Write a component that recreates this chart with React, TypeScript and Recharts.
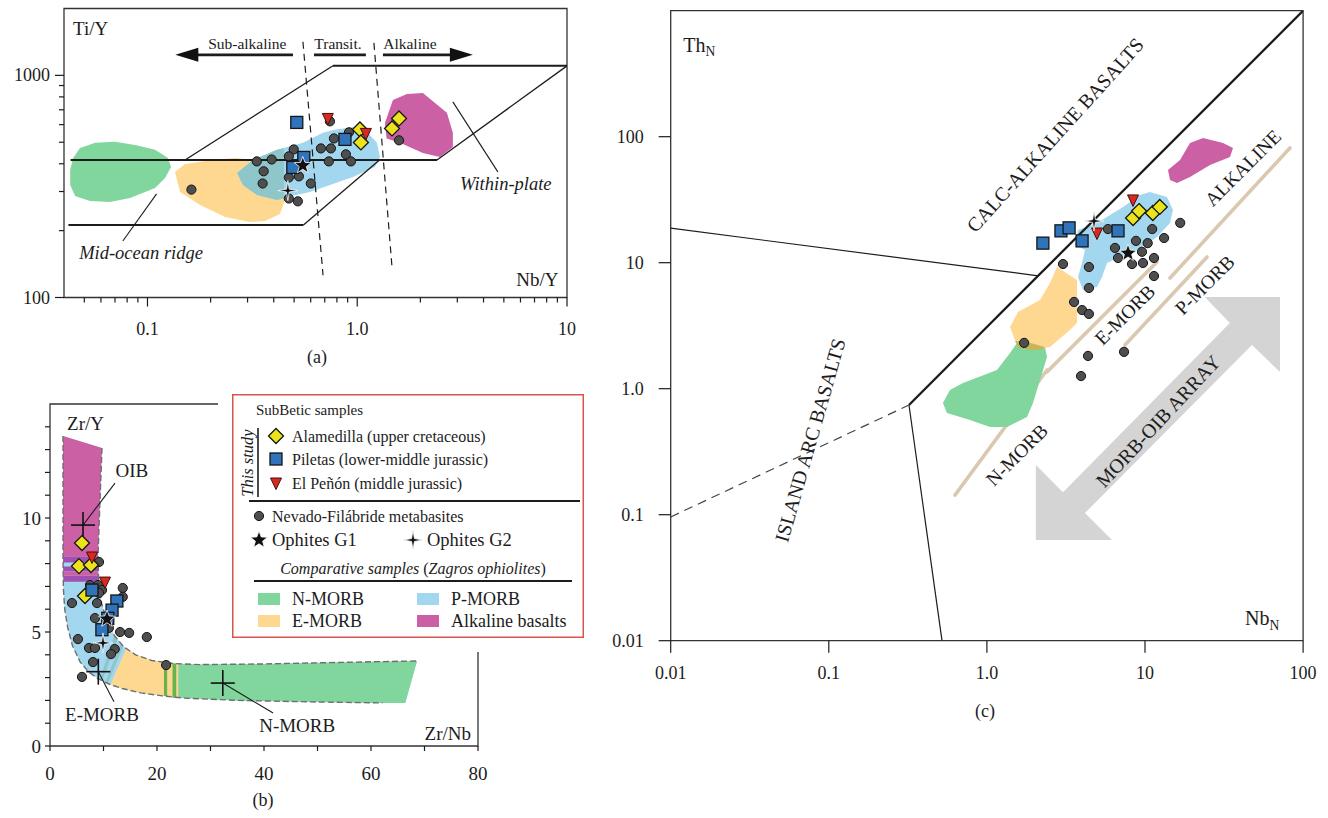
import React from 'react';
import { ScatterChart, Scatter, XAxis, YAxis, ReferenceArea } from 'recharts';

type P = [number, number];
type Note = { x: number; y: number; text: string; sub?: string };
const pts = (a: P[]) => a.map(([x, y]) => ({ x, y }));

const SERIF = '"Liberation Serif", "Times New Roman", Times, serif';
const INK = '#1c1c1c';
const COL = {
  nmorb: '#80d69c', emorb: '#fed891', pmorb: '#a3d6ef', alk: '#cc60a4', mix: '#8fc6c9',
  olive: '#c7b55b', purple: '#a050b2', sand: '#dac9b0', arrow: '#d4d4d4', dkgreen: '#69b34f',
  ala: '#ebe41c', pil: '#2f73ba', pen: '#d52a20', nf: '#4e4e4e', frame: '#333333', legend: '#d9534f',
};

/* ---------------- (a) Nb/Y vs Ti/Y ---------------- */
const A_XTICKS = [0.05, 0.06, 0.07, 0.08, 0.09, 0.1, 0.2, 0.3, 0.4, 0.5, 0.6, 0.7, 0.8, 0.9, 1, 2, 3, 4, 5, 6, 7, 8, 9, 10];
const A_XLABELS: Record<string, string> = { '0.1': '0.1', '1': '1.0', '10': '10' };
const A_YTICKS = [100, 200, 300, 400, 500, 600, 700, 800, 900, 1000];
const A_YLABELS: Record<string, string> = { '100': '100', '1000': '1000' };

const A_NMORB: P[] = [[0.0428, 375], [0.0442, 425], [0.0477, 471], [0.0563, 497], [0.0701, 502], [0.0873, 486], [0.1087, 462], [0.1253, 425], [0.1295, 387], [0.1213, 345], [0.1087, 311], [0.0826, 280.7], [0.0663, 269], [0.0532, 272], [0.0452, 286.6], [0.0428, 321]];
const A_EMORB: P[] = [[0.1353, 367.6], [0.151, 399.4], [0.2032, 416], [0.2615, 425], [0.3256, 416], [0.4426, 338.3], [0.4525, 274.9], [0.4283, 237.8], [0.3634, 221.1], [0.3082, 218.8], [0.2343, 230.5], [0.1781, 261], [0.143, 298.7]];
const A_PMORB: P[] = [[0.2673, 363.8], [0.3185, 416], [0.4145, 462], [0.5512, 497], [0.6865, 551], [0.7659, 568], [0.9539, 586], [1.112, 557], [1.241, 497], [1.283, 429.5], [1.214, 387], [0.9539, 348.9], [0.7411, 321], [0.5953, 298.7], [0.4625, 283.6], [0.4145, 274.9], [0.3329, 289.6], [0.2854, 321]];
const A_MIX: P[] = [[0.2673, 363.8], [0.3185, 416], [0.4145, 462], [0.447, 470], [0.447, 280], [0.4145, 274.9], [0.3329, 289.6], [0.2854, 321]];
const A_ALK: P[] = [[1.38, 520], [1.355, 611], [1.48, 775.6], [1.725, 825], [2.056, 834], [2.676, 678], [2.857, 551], [2.857, 476], [2.478, 429.5], [2.056, 447.6], [1.598, 497]];

const A_BOUNDS: P[][] = [
  [[0.043, 416], [2.4, 416]],
  [[2.4, 416], [10, 1104]],
  [[0.151, 416], [0.766, 1104]],
  [[0.766, 1104], [10, 1104]],
  [[0.042, 212], [0.554, 212]],
  [[0.554, 212], [1.277, 416]],
];
const A_DASHED: P[][] = [
  [[0.551, 1416], [0.687, 126]],
  [[1.201, 1400], [1.463, 139]],
];
const A_SHAFTS: P[][] = [
  [[0.4939, 1237], [0.17, 1237]],
  [[0.622, 1237], [1.1, 1237]],
  [[1.326, 1237], [2.8, 1237]],
];
const A_HEAD_L: P[] = [[0.1357, 1237]];
const A_HEAD_R: P[] = [[3.558, 1237]];
const A_LEADERS: P[][] = [
  [[0.1105, 292.7], [0.0763, 179.7]],
  [[2.857, 760], [4.68, 367.6]],
];

const A_NF: P[] = [[0.741, 621], [0.774, 520], [0.913, 554], [0.671, 469], [0.749, 469], [0.883, 441], [0.933, 410], [0.732, 410], [0.498, 464], [0.332, 410], [0.391, 418], [0.472, 432], [0.358, 370], [0.354, 326], [0.472, 347], [0.527, 351], [0.601, 326], [0.472, 279], [0.521, 271], [0.162, 306], [1.582, 510]];
const A_ALA: P[] = [[1.03, 571], [1.041, 499], [1.582, 640], [1.465, 577]];
const A_PIL: P[] = [[0.515, 614], [0.874, 515], [0.556, 427], [0.493, 385]];
const A_PEN: P[] = [[0.724, 640], [1.1, 548]];
const A_G1: P[] = [[0.55, 393]];
const A_G2: P[] = [[0.467, 303]];

const A_SERIES_NOTES: Note[] = [
  { x: 0.2993, y: 1386, text: 'Sub-alkaline' },
  { x: 0.8094, y: 1386, text: 'Transit.' },
  { x: 1.783, y: 1386, text: 'Alkaline' },
];
const A_FIELD_NOTES: Note[] = [
  { x: 0.0932, y: 158.7, text: 'Mid-ocean ridge' },
  { x: 5.11, y: 324.6, text: 'Within-plate' },
];
const A_YTITLE: Note[] = [{ x: 0.0442, y: 1620, text: 'Ti/Y' }];
const A_XTITLE: Note[] = [{ x: 9.1, y: 120, text: 'Nb/Y' }];

/* ---------------- (b) Zr/Nb vs Zr/Y ---------------- */
const B_XTICKS = [0, 10, 20, 30, 40, 50, 60, 70, 80];
const B_XLABELS: Record<string, string> = { '0': '0', '20': '20', '40': '40', '60': '60', '80': '80' };
const B_YTICKS = [0, 1, 2, 3, 4, 5, 6, 7, 8, 9, 10, 11, 12, 13, 14];
const B_YLABELS: Record<string, string> = { '0': '0', '5': '5', '10': '10' };

const B_OUTER: P[] = [[2.43, 13.6], [2.43, 11], [2.43, 8.3], [2.5, 6.9], [2.75, 6.0], [3.3, 5.2], [4.2, 4.4], [5.6, 3.7], [7.2, 3.25], [9.0, 2.95], [11.0, 2.72], [13.5, 2.52], [17, 2.33], [21, 2.2], [25, 2.1], [35, 2.0], [50, 1.93], [62.2, 1.89]];
const B_INNER: P[] = [[9.72, 13.07], [9.3, 10.5], [8.97, 8.3], [9.1, 7.2], [9.6, 6.3], [10.6, 5.5], [12.0, 4.85], [13.8, 4.35], [16, 4.0], [19, 3.75], [23, 3.62], [28, 3.57], [40, 3.6], [55, 3.67], [68.6, 3.73]];
const B_BAND: P[] = [...B_OUTER, [66.4, 1.89], ...[...B_INNER].reverse()];
const B_ALK: P[] = [[2.43, 13.6], [9.72, 13.07], [9.3, 10.5], [8.97, 8.3], [2.43, 8.3]];
const B_PURPLE: P[][] = [
  [[2.43, 8.3], [8.97, 8.3], [8.98, 8.05], [2.43, 8.05]],
  [[2.45, 7.87], [9.0, 7.87], [9.02, 7.65], [2.46, 7.65]],
  [[2.47, 7.47], [9.05, 7.47], [9.08, 7.2], [2.48, 7.2]],
];
const B_PINK_STRIPE: P[] = [[2.46, 7.65], [9.02, 7.65], [9.05, 7.47], [2.47, 7.47]];
const B_MIX_STRIPES: P[][] = [
  [[12.0, 4.85], [12.6, 4.68], [9.8, 2.87], [9.3, 2.92]],
  [[13.2, 4.5], [13.7, 4.37], [10.8, 2.74], [10.3, 2.79]],
];
const B_EMORB: P[] = [[14.2, 4.27], [16, 4.0], [19, 3.75], [23, 3.62], [24, 3.61], [24, 2.1], [21, 2.2], [17, 2.33], [13.5, 2.52], [11.3, 2.7]];
const B_GREEN_STRIPES: P[][] = [
  [[21.3, 3.67], [21.9, 3.66], [21.9, 2.18], [21.3, 2.19]],
  [[22.9, 3.63], [23.6, 3.62], [23.6, 2.11], [22.9, 2.12]],
];
const B_NMORB: P[] = [[24, 3.61], [28, 3.57], [40, 3.6], [55, 3.67], [68.6, 3.73], [66.4, 1.89], [62.2, 1.89], [50, 1.93], [35, 2.0], [25, 2.1], [24, 2.1]];

const B_CROSSES: P[] = [[6.17, 9.69], [9.03, 3.26], [32.3, 2.76]];
const B_LEADERS: P[][] = [
  [[6.17, 9.69], [12.15, 11.53]],
  [[9.03, 3.26], [11.96, 1.94]],
  [[32.3, 2.76], [41.7, 1.45]],
];
const B_NOTES: Note[] = [
  { x: 15.3, y: 12.1, text: 'OIB' },
  { x: 9.72, y: 1.36, text: 'E-MORB' },
  { x: 46.2, y: 0.88, text: 'N-MORB' },
];
const B_YTITLE: Note[] = [{ x: 3.2, y: 14.15, text: 'Zr/Y' }];
const B_XTITLE: Note[] = [{ x: 78.7, y: 0.57, text: 'Zr/Nb' }];

const B_NF: P[] = [[9.16, 8.07], [7.48, 7.06], [8.97, 7.06], [9.72, 6.84], [9.16, 6.71], [13.6, 6.93], [13.6, 6.54], [4.11, 6.27], [8.79, 6.27], [8.41, 5.61], [11.0, 5.18], [13.1, 5.0], [14.8, 4.96], [18.1, 4.78], [5.23, 4.69], [7.29, 4.3], [8.41, 4.3], [12.1, 4.25], [11.4, 4.03], [8.04, 3.68], [5.98, 3.03], [21.7, 3.55]];
const B_ALA: P[] = [[5.98, 8.9], [5.42, 7.89], [7.66, 7.94], [6.54, 6.58]];
const B_PIL: P[] = [[7.85, 6.84], [12.5, 6.36], [11.6, 5.96], [10.8, 5.6], [9.7, 5.1]];
const B_PEN: P[] = [[7.85, 8.29], [10.28, 7.19]];
const B_G1: P[] = [[10.65, 5.57]];
const B_G2: P[] = [[9.9, 4.52]];

/* ---------------- (c) NbN vs ThN ---------------- */
const C_XTICKS = [0.01, 0.1, 1, 10, 100];
const C_XLABELS: Record<string, string> = { '0.01': '0.01', '0.1': '0.1', '1': '1.0', '10': '10', '100': '100' };
const C_YTICKS = [0.01, 0.1, 1, 10, 100];
const C_YLABELS: Record<string, string> = { '0.01': '0.01', '0.1': '0.1', '1': '1.0', '10': '10', '100': '100' };

const C_NMORB: P[] = [[0.527, 0.77], [0.584, 0.977], [0.706, 1.11], [1.158, 1.407], [1.4, 1.92], [1.55, 2.31], [1.793, 2.348], [2.331, 2.143], [2.4, 1.785], [2.167, 1.172], [1.957, 0.77], [1.793, 0.596], [1.34, 0.497], [1.046, 0.497], [0.782, 0.564], [0.559, 0.641]];
const C_EMORB: P[] = [[2.776, 9.24], [3.714, 7.29], [3.714, 3.32], [3.354, 2.92], [2.507, 2.143], [1.957, 2.03], [1.505, 2.43], [1.4, 3.09], [1.573, 4.06], [2.167, 5.06], [2.507, 6.9]];
const C_OVERLAP: P[] = [[1.5, 2.4], [1.79, 2.35], [2.33, 2.14], [2.2, 2.05], [1.95, 2.02], [1.6, 2.1]];
const C_PMORB: P[] = [[3.769, 18.17], [4.97, 20.66], [7.26, 27.68], [9.3, 34.45], [10.75, 36.4], [13.78, 33.22], [15.03, 26.2], [14.39, 20.66], [11.91, 16.0], [8.9, 12.61], [6.95, 11.1], [5.75, 9.95], [5.346, 7.7], [4.97, 6.41], [4.054, 6.07], [3.769, 7.7], [3.995, 9.95], [4.174, 12.61], [3.607, 13.82]];
const C_ALK: P[] = [[14.39, 45.3], [13.98, 54.4], [16.65, 65.3], [19.26, 89.1], [23.28, 97.6], [31.15, 89.1], [36.03, 81.4], [34.49, 69.0], [25.77, 59.6], [19.26, 47.9], [15.94, 42.9]];
const C_ARRAY_ARROW: P[] = [[71.4, 5.34], [71.4, 1.357], [47.5, 2.22], [4.17, 0.103], [6.18, 0.063], [2.04, 0.063], [2.04, 0.248], [3.03, 0.151], [34.4, 3.32], [23.9, 5.34]];

const C_MAIN: P[] = [[0.3215, 0.742], [100, 1000]];
const C_THIN: P[][] = [
  [[0.01, 18.8], [2.11, 7.87]],
  [[0.3215, 0.742], [0.52, 0.01]],
];
const C_DASHED: P[] = [[0.01, 0.096], [0.3215, 0.742]];
const C_TRENDS: P[][] = [
  [[0.628, 0.143], [2.4, 1.407]],
  [[2.4, 1.36], [11.91, 10.13]],
  [[7.47, 2.22], [24.7, 11.1]],
  [[14.39, 7.56], [82.6, 81.4]],
];

const C_NF: P[] = [[5.83, 18.5], [11.1, 18.5], [16.7, 20.7], [8.77, 14.9], [10.4, 14.3], [13.2, 15.7], [6.46, 13.1], [6.75, 10.9], [9.57, 12.2], [9.71, 9.95], [8.28, 9.76], [11.4, 10.9], [11.4, 7.84], [3.03, 9.76], [4.42, 9.24], [4.42, 6.3], [3.56, 4.88], [4.0, 4.21], [4.42, 3.92], [1.72, 2.31], [4.36, 1.82], [7.37, 1.96], [3.94, 1.26]];
const C_ALA: P[] = [[8.4, 22.6], [9.17, 25.7], [11.2, 24.8], [12.4, 27.7]];
const C_PIL: P[] = [[2.26, 14.3], [2.94, 17.9], [3.31, 18.9], [4.0, 14.9], [6.75, 17.9]];
const C_PEN: P[] = [[8.4, 31.5], [4.97, 17.2]];
const C_G1: P[] = [[7.81, 11.9]];
const C_G2: P[] = [[4.76, 21.4]];

const C_TITLES: Note[] = [
  { x: 0.012, y: 534, text: 'Th', sub: 'N' },
  { x: 42.9, y: 0.0151, text: 'Nb', sub: 'N' },
];
const C_CALC: Note[] = [{ x: 2.7, y: 103.2, text: 'CALC-ALKALINE BASALTS' }];
const C_ARC: Note[] = [{ x: 0.0761, y: 0.391, text: 'ISLAND ARC BASALTS' }];
const C_TREND_NOTES: Note[] = [
  { x: 41.7, y: 56.4, text: 'ALKALINE' },
  { x: 7.47, y: 3.85, text: 'E-MORB' },
  { x: 23.9, y: 6.65, text: 'P-MORB' },
  { x: 1.55, y: 0.298, text: 'N-MORB' },
];
const C_ARRAY_NOTE: Note[] = [{ x: 12.08, y: 0.554, text: 'MORB-OIB ARRAY' }];

/* ---------------- legend content ---------------- */
const SUBBETIC = ['Alamedilla (upper cretaceous)', 'Piletas (lower-middle jurassic)', 'El Peñón (middle jurassic)'];
const ZAGROS = ['N-MORB', 'P-MORB', 'E-MORB', 'Alkaline basalts'];

/* ---------------- drawing helpers ---------------- */
const Blank = () => <g />;

function starPath(cx: number, cy: number, n: number, ro: number, ri: number) {
  let d = '';
  for (let i = 0; i < 2 * n; i++) {
    const r = i % 2 ? ri : ro;
    const a = -Math.PI / 2 + (i * Math.PI) / n;
    d += (i ? 'L' : 'M') + (cx + r * Math.cos(a)).toFixed(2) + ',' + (cy + r * Math.sin(a)).toFixed(2);
  }
  return d + 'Z';
}

const CircleMk = (p: any) => <circle cx={p.cx} cy={p.cy} r={4.6} fill={COL.nf} stroke="#151515" strokeWidth={1} />;
const DiamondMk = (p: any) => (
  <path d={`M${p.cx},${p.cy - 7.5}L${p.cx + 7.5},${p.cy}L${p.cx},${p.cy + 7.5}L${p.cx - 7.5},${p.cy}Z`} fill={COL.ala} stroke="#151515" strokeWidth={1.3} />
);
const SquareMk = (p: any) => <rect x={p.cx - 6} y={p.cy - 6} width={12} height={12} fill={COL.pil} stroke="#151515" strokeWidth={1.3} />;
const TriMk = (p: any) => (
  <path d={`M${p.cx - 5.5},${p.cy - 5}L${p.cx + 5.5},${p.cy - 5}L${p.cx},${p.cy + 6.5}Z`} fill={COL.pen} stroke="#4a0d0a" strokeWidth={1} />
);
const G1Mk = (p: any) => <path d={starPath(p.cx, p.cy, 5, 9, 3.8)} fill="#111" stroke="#fff" strokeWidth={0.8} />;
const G2Mk = (p: any) => <path d={starPath(p.cx, p.cy, 4, 10, 2)} fill="#111" stroke="#fff" strokeWidth={0.8} />;
const CrossMk = (p: any) => (
  <g stroke="#111" strokeWidth={1.6}>
    <line x1={p.cx - 12} y1={p.cy} x2={p.cx + 12} y2={p.cy} />
    <line x1={p.cx} y1={p.cy - 13} x2={p.cx} y2={p.cy + 13} />
  </g>
);
const HeadLeft = (p: any) => <path d={`M${p.cx},${p.cy}L${p.cx + 23},${p.cy - 7}L${p.cx + 23},${p.cy + 7}Z`} fill="#111" />;
const HeadRight = (p: any) => <path d={`M${p.cx},${p.cy}L${p.cx - 23},${p.cy - 7}L${p.cx - 23},${p.cy + 7}Z`} fill="#111" />;

type TextStyle = { size: number; rot?: number; anchor?: 'start' | 'middle' | 'end'; italic?: boolean };
const textShape = (o: TextStyle) => (p: any) => {
  const d = p.payload as Note;
  return (
    <text
      x={p.cx}
      y={p.cy}
      fontSize={o.size}
      fontFamily={SERIF}
      fontStyle={o.italic ? 'italic' : 'normal'}
      textAnchor={o.anchor ?? 'middle'}
      dominantBaseline="central"
      transform={o.rot ? `rotate(${o.rot} ${p.cx} ${p.cy})` : undefined}
      fill={INK}
    >
      {d.text}
      {d.sub ? (
        <tspan fontSize={o.size * 0.68} dy={o.size * 0.32}>
          {d.sub}
        </tspan>
      ) : null}
    </text>
  );
};

const area = (k: string, d: P[], fill: string) => (
  <Scatter key={k} data={pts(d)} fill={fill} shape={Blank} line={{ fill, stroke: 'none' }} lineJointType="linearClosed" isAnimationActive={false} legendType="none" />
);
const path = (k: string, d: P[], stroke: string, width: number, dash?: string, cap?: string) => (
  <Scatter
    key={k}
    data={pts(d)}
    fill="none"
    shape={Blank}
    line={{ stroke, strokeWidth: width, strokeDasharray: dash, fill: 'none', strokeLinecap: cap ?? 'butt' }}
    lineJointType="linear"
    isAnimationActive={false}
    legendType="none"
  />
);
const marks = (k: string, d: P[], shape: any) => <Scatter key={k} data={pts(d)} shape={shape} isAnimationActive={false} legendType="none" />;
const notes = (k: string, d: Note[], style: TextStyle) => (
  <Scatter key={k} data={d} shape={textShape(style)} isAnimationActive={false} legendType="none" />
);

type TickCfg = { side: 'x' | 'y'; label: (v: number) => string; len: (v: number) => number; gap: number; size: number };
const makeTick = (c: TickCfg) => (props: any) => {
  const { x, y, payload } = props;
  const v = Number(payload.value);
  const len = c.len(v);
  const lab = c.label(v);
  if (c.side === 'x') {
    return (
      <g>
        <line x1={x} y1={y} x2={x} y2={y + len} stroke={INK} strokeWidth={1.2} />
        {lab ? (
          <text x={x} y={y + c.gap} textAnchor="middle" dominantBaseline="central" fontSize={c.size} fontFamily={SERIF} fill={INK}>
            {lab}
          </text>
        ) : null}
      </g>
    );
  }
  return (
    <g>
      <line x1={x} y1={y} x2={x - len} y2={y} stroke={INK} strokeWidth={1.2} />
      {lab ? (
        <text x={x - c.gap} y={y} textAnchor="end" dominantBaseline="central" fontSize={c.size} fontFamily={SERIF} fill={INK}>
          {lab}
        </text>
      ) : null}
    </g>
  );
};

const tickAX = makeTick({ side: 'x', label: (v) => A_XLABELS[String(v)] ?? '', len: (v) => (A_XLABELS[String(v)] ? 9 : 5), gap: 31, size: 18 });
const tickAY = makeTick({ side: 'y', label: (v) => A_YLABELS[String(v)] ?? '', len: (v) => (A_YLABELS[String(v)] ? 9 : 5), gap: 14, size: 18 });
const tickBX = makeTick({ side: 'x', label: (v) => B_XLABELS[String(v)] ?? '', len: () => 5, gap: 27, size: 19 });
const tickBY = makeTick({ side: 'y', label: (v) => B_YLABELS[String(v)] ?? '', len: () => 5, gap: 9, size: 19 });
const tickCX = makeTick({ side: 'x', label: (v) => C_XLABELS[String(v)] ?? '', len: () => 12, gap: 32, size: 18 });
const tickCY = makeTick({ side: 'y', label: (v) => C_YLABELS[String(v)] ?? '', len: () => 12, gap: 27, size: 18 });

/* ---------------- panels ---------------- */
function PanelA() {
  return (
    <ScatterChart width={600} height={380} margin={{ top: 8.5, right: 33, bottom: 52.5, left: 14 }}>
      <XAxis type="number" dataKey="x" scale="log" domain={[0.04, 10]} allowDataOverflow ticks={A_XTICKS} interval={0} tickSize={0} tickMargin={0} axisLine={false} tickLine={false} tick={tickAX} height={30} />
      <YAxis type="number" dataKey="y" scale="log" domain={[100, 2000]} allowDataOverflow ticks={A_YTICKS} interval={0} tickSize={0} tickMargin={0} axisLine={false} tickLine={false} tick={tickAY} width={50} />
      <ReferenceArea x1={0.04} x2={10} y1={100} y2={2000} fill="none" stroke={COL.frame} strokeWidth={1.3} ifOverflow="visible" />
      {area('a-n', A_NMORB, COL.nmorb)}
      {area('a-e', A_EMORB, COL.emorb)}
      {area('a-p', A_PMORB, COL.pmorb)}
      {area('a-m', A_MIX, COL.mix)}
      {area('a-k', A_ALK, COL.alk)}
      {A_BOUNDS.map((s, i) => path(`a-b${i}`, s, INK, i === 0 || i === 3 || i === 4 ? 2 : 1.3))}
      {A_DASHED.map((s, i) => path(`a-d${i}`, s, INK, 1.2, '7 5'))}
      {A_SHAFTS.map((s, i) => path(`a-s${i}`, s, INK, 2.6))}
      {marks('a-hl', A_HEAD_L, HeadLeft)}
      {marks('a-hr', A_HEAD_R, HeadRight)}
      {A_LEADERS.map((s, i) => path(`a-l${i}`, s, INK, 1.1))}
      {marks('a-nf', A_NF, CircleMk)}
      {marks('a-ala', A_ALA, DiamondMk)}
      {marks('a-pil', A_PIL, SquareMk)}
      {marks('a-pen', A_PEN, TriMk)}
      {marks('a-g2', A_G2, G2Mk)}
      {marks('a-g1', A_G1, G1Mk)}
      {notes('a-t1', A_SERIES_NOTES, { size: 15.5 })}
      {notes('a-t2', A_FIELD_NOTES, { size: 18.5, italic: true })}
      {notes('a-t3', A_YTITLE, { size: 19, anchor: 'start' })}
      {notes('a-t4', A_XTITLE, { size: 19, anchor: 'end' })}
    </ScatterChart>
  );
}

function PanelB() {
  return (
    <ScatterChart width={600} height={438} margin={{ top: 24, right: 122, bottom: 42, left: 10 }}>
      <XAxis type="number" dataKey="x" domain={[0, 80]} allowDataOverflow ticks={B_XTICKS} interval={0} tickSize={0} tickMargin={0} axisLine={false} tickLine={false} tick={tickBX} height={30} />
      <YAxis type="number" dataKey="y" domain={[0, 15]} allowDataOverflow ticks={B_YTICKS} interval={0} tickSize={0} tickMargin={0} axisLine={false} tickLine={false} tick={tickBY} width={40} />
      <ReferenceArea x1={0} x2={80} y1={0} y2={15} fill="none" stroke={COL.frame} strokeWidth={1.3} ifOverflow="visible" />
      {area('b-band', B_BAND, COL.pmorb)}
      {area('b-alk', B_ALK, COL.alk)}
      {B_PURPLE.map((s, i) => area(`b-pu${i}`, s, COL.purple))}
      {area('b-pk', B_PINK_STRIPE, COL.alk)}
      {area('b-e', B_EMORB, COL.emorb)}
      {B_MIX_STRIPES.map((s, i) => area(`b-mx${i}`, s, COL.mix))}
      {B_GREEN_STRIPES.map((s, i) => area(`b-gs${i}`, s, COL.dkgreen))}
      {area('b-n', B_NMORB, COL.nmorb)}
      {path('b-out', B_OUTER, '#6f6f6f', 1.4, '6 3')}
      {path('b-in', B_INNER, '#6f6f6f', 1.4, '6 3')}
      {B_LEADERS.map((s, i) => path(`b-l${i}`, s, INK, 1.1))}
      {marks('b-x', B_CROSSES, CrossMk)}
      {marks('b-nf', B_NF, CircleMk)}
      {marks('b-ala', B_ALA, DiamondMk)}
      {marks('b-pil', B_PIL, SquareMk)}
      {marks('b-pen', B_PEN, TriMk)}
      {marks('b-g2', B_G2, G2Mk)}
      {marks('b-g1', B_G1, G1Mk)}
      {notes('b-t1', B_NOTES, { size: 19 })}
      {notes('b-t2', B_YTITLE, { size: 19, anchor: 'start' })}
      {notes('b-t3', B_XTITLE, { size: 19, anchor: 'end' })}
    </ScatterChart>
  );
}

function PanelC() {
  return (
    <ScatterChart width={728} height={740} margin={{ top: 10.7, right: 24.9, bottom: 59.3, left: 10.7 }}>
      <XAxis type="number" dataKey="x" scale="log" domain={[0.01, 100]} allowDataOverflow ticks={C_XTICKS} interval={0} tickSize={0} tickMargin={0} axisLine={false} tickLine={false} tick={tickCX} height={40} />
      <YAxis type="number" dataKey="y" scale="log" domain={[0.01, 1000]} allowDataOverflow ticks={C_YTICKS} interval={0} tickSize={0} tickMargin={0} axisLine={false} tickLine={false} tick={tickCY} width={60} />
      <ReferenceArea x1={0.01} x2={100} y1={0.01} y2={1000} fill="none" stroke={COL.frame} strokeWidth={1.3} ifOverflow="visible" />
      {area('c-arr', C_ARRAY_ARROW, COL.arrow)}
      {C_TRENDS.map((s, i) => path(`c-tr${i}`, s, COL.sand, 3.6, undefined, 'round'))}
      {area('c-n', C_NMORB, COL.nmorb)}
      {area('c-e', C_EMORB, COL.emorb)}
      {area('c-o', C_OVERLAP, COL.olive)}
      {area('c-p', C_PMORB, COL.pmorb)}
      {area('c-k', C_ALK, COL.alk)}
      {path('c-main', C_MAIN, INK, 2.3)}
      {C_THIN.map((s, i) => path(`c-th${i}`, s, INK, 1.2))}
      {path('c-dash', C_DASHED, '#444', 1.2, '9 6')}
      {marks('c-nf', C_NF, CircleMk)}
      {marks('c-ala', C_ALA, DiamondMk)}
      {marks('c-pil', C_PIL, SquareMk)}
      {marks('c-pen', C_PEN, TriMk)}
      {marks('c-g2', C_G2, G2Mk)}
      {marks('c-g1', C_G1, G1Mk)}
      {notes('c-t0', C_TITLES, { size: 20, anchor: 'start' })}
      {notes('c-t1', C_CALC, { size: 20, rot: -48 })}
      {notes('c-t2', C_ARC, { size: 20, rot: -74 })}
      {notes('c-t3', C_TREND_NOTES, { size: 19.5, rot: -45 })}
      {notes('c-t4', C_ARRAY_NOTE, { size: 20, rot: -47 })}
    </ScatterChart>
  );
}

function LegendBox() {
  const rowY = [42, 65, 89];
  const swatch = [COL.nmorb, COL.pmorb, COL.emorb, COL.alk];
  const t = { fontFamily: SERIF, fill: INK, dominantBaseline: 'central' as const };
  return (
    <div style={{ position: 'absolute', left: 218, top: 380, padding: 14, background: '#fff' }}>
      <svg width={352} height={244} style={{ display: 'block' }}>
        <rect x={0.75} y={0.75} width={350.5} height={242.5} fill="#fff" stroke={COL.legend} strokeWidth={1.5} />
        <text x={24} y={16} fontSize={15} {...t}>SubBetic samples</text>
        <text x={15} y={69} fontSize={16.5} fontStyle="italic" textAnchor="middle" transform="rotate(-90 15 69)" {...t}>This study</text>
        <line x1={26} y1={34} x2={26} y2={103} stroke={INK} strokeWidth={1.6} />
        {DiamondMk({ cx: 44, cy: rowY[0] })}
        {SquareMk({ cx: 44, cy: rowY[1] })}
        {TriMk({ cx: 44, cy: rowY[2] })}
        {SUBBETIC.map((s, i) => (
          <text key={s} x={60} y={rowY[i]} fontSize={16} {...t}>{s}</text>
        ))}
        <line x1={17} y1={107} x2={348} y2={107} stroke={INK} strokeWidth={2} />
        {CircleMk({ cx: 27, cy: 122 })}
        <text x={40} y={122} fontSize={16} {...t}>Nevado-Filábride metabasites</text>
        {G1Mk({ cx: 27, cy: 146 })}
        <text x={40} y={146} fontSize={18.5} {...t}>Ophites G1</text>
        {G2Mk({ cx: 181, cy: 146 })}
        <text x={195} y={146} fontSize={18.5} {...t}>Ophites G2</text>
        <text x={181} y={174} fontSize={16} textAnchor="middle" {...t}>
          <tspan fontStyle="italic">Comparative samples </tspan>
          <tspan>(</tspan>
          <tspan fontStyle="italic">Zagros ophiolites</tspan>
          <tspan>)</tspan>
        </text>
        <line x1={22} y1={187} x2={340} y2={187} stroke={INK} strokeWidth={2} />
        {ZAGROS.map((s, i) => {
          const col = i % 2;
          const row = Math.floor(i / 2);
          const sx = col ? 185 : 26;
          const sy = row ? 227 : 205;
          return (
            <g key={s}>
              <rect x={sx} y={sy - 6} width={22} height={12} fill={swatch[i]} />
              <text x={sx + 34} y={sy} fontSize={18} {...t}>{s}</text>
            </g>
          );
        })}
      </svg>
    </div>
  );
}

const caption = (label: string, x: number, y: number) => (
  <div style={{ position: 'absolute', left: x, top: y, transform: 'translate(-50%, -50%)', fontFamily: SERIF, fontSize: 18, color: INK }}>{label}</div>
);

export default function App() {
  return (
    <div style={{ position: 'absolute', left: 0, top: 0, width: 1328, height: 818, background: '#fff', fontFamily: SERIF, overflow: 'hidden' }}>
      <div style={{ position: 'absolute', left: 0, top: 0 }}>
        <PanelA />
      </div>
      <div style={{ position: 'absolute', left: 0, top: 380 }}>
        <PanelB />
      </div>
      <div style={{ position: 'absolute', left: 600, top: 0 }}>
        <PanelC />
      </div>
      <LegendBox />
      {caption('(a)', 317, 357)}
      {caption('(b)', 263, 800)}
      {caption('(c)', 985, 711)}
    </div>
  );
}
